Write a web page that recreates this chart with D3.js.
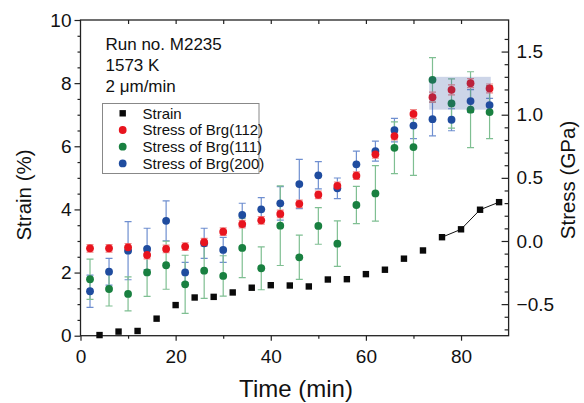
<!doctype html>
<html lang="en">
<head>
<meta charset="utf-8">
<title>Strain and stress vs time</title>
<style>
    body { margin: 0; background: #fff; }
    svg text { font-family: "Liberation Sans", Arial, sans-serif; fill: #111; }
    .axis .domain { display: none; }
    .axis line { stroke: #222; stroke-width: 1.2px; }
    .axis text { font-size: 19px; }
    .frame { fill: none; stroke: #222; stroke-width: 1.3px; }
    .errbar { fill: none; stroke-width: 1.2px; }
</style>
</head>
<body>
<svg id="plot" width="584" height="403"></svg>
<script src="https://d3js.org/d3.v7.min.js"></script>
<script>
// strain (%) vs time (min)
const strainTime = [4, 8, 12, 16, 20, 24, 28, 32, 36, 40, 44, 48, 52, 56, 60, 64, 68, 72, 76, 80, 84, 88];
const strainVal = [0.02, 0.13, 0.15, 0.54, 0.97, 1.21, 1.23, 1.37, 1.52, 1.60, 1.59, 1.56, 1.78, 1.79, 1.95, 2.09, 2.44, 2.70, 3.12, 3.37, 3.99, 4.23];

// stress (GPa) vs time (min)
const stressTime = [2, 6, 10, 14, 18, 22, 26, 30, 34, 38, 42, 46, 50, 54, 58, 62, 66, 70, 74, 78, 82, 86];
const brg112 = [-0.058, -0.058, -0.050, -0.111, -0.063, -0.044, -0.010, 0.074, 0.134, 0.164, 0.214, 0.294, 0.366, 0.437, 0.517, 0.686, 0.831, 1.006, 1.139, 1.197, 1.250, 1.208];
const brg112Err = [0.03, 0.03, 0.03, 0.03, 0.03, 0.03, 0.03, 0.03, 0.03, 0.03, 0.03, 0.03, 0.03, 0.03, 0.03, 0.03, 0.03, 0.035, 0.04, 0.04, 0.035, 0.035];
const brg111 = [-0.303, -0.380, -0.419, -0.249, -0.192, -0.343, -0.235, -0.277, -0.055, -0.216, 0.121, -0.129, 0.119, -0.021, 0.285, 0.377, 0.738, 0.744, 1.276, 1.089, 1.040, 1.021];
const brg111Err = [0.16, 0.135, 0.135, 0.19, 0.19, 0.23, 0.22, 0.16, 0.235, 0.17, 0.315, 0.175, 0.145, 0.18, 0.148, 0.22, 0.205, 0.225, 0.176, 0.195, 0.30, 0.21];
const brg200 = [-0.398, -0.243, -0.077, -0.063, 0.160, -0.249, -0.018, -0.071, 0.206, 0.251, 0.298, 0.451, 0.520, 0.417, 0.607, 0.712, 0.878, 0.914, 0.965, 0.960, 1.108, 1.076];
const brg200Err = [0.127, 0.106, 0.23, 0.164, 0.158, 0.08, 0.119, 0.099, 0.093, 0.093, 0.132, 0.195, 0.108, 0.082, 0.105, 0.079, 0.093, 0.103, 0.132, 0.087, 0.09, 0.053];

// shaded region (time range, stress range)
const boxTime = [73.3, 86.25];
const boxStress = [1.04, 1.30];

const notes = ["Run no. M2235", "1573 K", "2 μm/min"];
const legendLabels = ["Strain", "Stress of Brg(112)", "Stress of Brg(111)", "Stress of Brg(200)"];

const svg = d3.select("svg");

let x = d3.scaleLinear().domain([0, 90]).range([80.5, 508.6]);
let yL = d3.scaleLinear().domain([0, 10]).range([335.7, 20]);
let yR = d3.scaleLinear().domain([-0.75, 1.75]).range([335.7, 20]);

const xLeft = x.range()[0], xRight = x.range()[1];
const yTop = yL.range()[1], yBottom = yL.range()[0];

// axes
svg.append("g").attr("class", "axis")
    .attr("transform", "translate(" + xLeft + ",0)")
    .call(d3.axisLeft(yL).tickValues([0, 2, 4, 6, 8, 10]).tickSize(6).tickPadding(3));
svg.append("g").attr("class", "axis")
    .attr("transform", "translate(" + xLeft + ",0)")
    .call(d3.axisLeft(yL).tickValues(d3.range(0.5, 10, 0.5).filter(v => v % 2 !== 0)).tickSize(3).tickFormat(""));

svg.append("g").attr("class", "axis")
    .attr("transform", "translate(0," + yBottom + ")")
    .call(d3.axisBottom(x).tickValues([0, 20, 40, 60, 80]).tickSize(5).tickPadding(8.5));
svg.append("g").attr("class", "axis")
    .attr("transform", "translate(0," + yBottom + ")")
    .call(d3.axisBottom(x).tickValues([10, 30, 50, 70]).tickSize(3).tickFormat(""));

svg.append("g").attr("class", "axis")
    .attr("transform", "translate(0," + yTop + ")")
    .call(d3.axisTop(x).tickValues([10, 20, 30, 40, 50, 60, 70, 80]).tickSize(-4).tickFormat(""));

svg.append("g").attr("class", "axis")
    .attr("transform", "translate(" + xRight + ",0)")
    .call(d3.axisRight(yR).tickValues([-0.5, 0, 0.5, 1.0, 1.5]).tickSize(-7).tickPadding(8).tickFormat(d3.format(".1f")));
svg.append("g").attr("class", "axis")
    .attr("transform", "translate(" + xRight + ",0)")
    .call(d3.axisRight(yR).tickValues(d3.range(-7, 17).map(v => v / 10).filter(v => Math.round(v * 10) % 5 !== 0)).tickSize(-4).tickFormat(""));

svg.append("rect").attr("class", "frame")
    .attr("x", xLeft).attr("y", yTop)
    .attr("width", xRight - xLeft).attr("height", yBottom - yTop);

// axis titles
svg.append("text")
    .attr("transform", "translate(31,195) rotate(-90)")
    .attr("text-anchor", "middle")
    .style("font-size", "20.5px")
    .text("Strain (%)");
svg.append("text")
    .attr("transform", "translate(575,180) rotate(-90)")
    .attr("text-anchor", "middle")
    .style("font-size", "20.5px")
    .text("Stress (GPa)");
svg.append("text")
    .attr("x", 296).attr("y", 397)
    .attr("text-anchor", "middle")
    .style("font-size", "24px")
    .text("Time (min)");

// strain: squares + line through last points
const strainData = strainTime.map((t, i) => [t, strainVal[i]]);
svg.append("path")
    .datum(strainData.filter(d => d[0] >= 76))
    .attr("fill", "none").attr("stroke", "#111").attr("stroke-width", 1)
    .attr("d", d3.line().x(d => x(d[0])).y(d => yL(d[1])));
svg.append("g").selectAll("rect")
    .data(strainData).join("rect")
    .attr("x", d => x(d[0]) - 3.2).attr("y", d => yL(d[1]) - 3.2)
    .attr("width", 6.4).attr("height", 6.4)
    .attr("fill", "#0a0a0a");

// stress series, drawn blue, green, red
const series = [
    {vals: brg200, errs: brg200Err, color: "#1f4c9f", bar: "#6f8fd0"},
    {vals: brg111, errs: brg111Err, color: "#198040", bar: "#7fbf92"},
    {vals: brg112, errs: brg112Err, color: "#e8141e", bar: "#f08a8a"}
];

const bars = svg.append("g");
for (const s of series) {
    const d = stressTime.map((t, i) => [t, s.vals[i], s.errs[i]]);
    const g = bars.append("g").attr("stroke", s.bar).attr("class", "errbar");
    g.selectAll("path").data(d).join("path")
        .attr("d", p => {
            const cx = x(p[0]), y0 = yR(p[1] - p[2]), y1 = yR(p[1] + p[2]);
            return "M" + cx + "," + y0 + "V" + y1 +
                "M" + (cx - 3.5) + "," + y0 + "H" + (cx + 3.5) +
                "M" + (cx - 3.5) + "," + y1 + "H" + (cx + 3.5);
        });
}
for (const s of series) {
    svg.append("g").selectAll("circle")
        .data(stressTime.map((t, i) => [t, s.vals[i]])).join("circle")
        .attr("cx", d => x(d[0])).attr("cy", d => yR(d[1]))
        .attr("r", 3.9)
        .attr("fill", s.color);
}

// shaded box on top
svg.append("rect")
    .attr("x", x(boxTime[0])).attr("y", yR(boxStress[1]))
    .attr("width", x(boxTime[1]) - x(boxTime[0]))
    .attr("height", yR(boxStress[0]) - yR(boxStress[1]))
    .attr("fill", "#3050a0").attr("fill-opacity", 0.24);

// notes
svg.append("g").selectAll("text")
    .data(notes).join("text")
    .attr("x", 105.5).attr("y", (d, i) => 50 + i * 20.8)
    .style("font-size", "17px")
    .text(d => d);

// legend
const lg = svg.append("g");
lg.append("rect")
    .attr("x", 102.5).attr("y", 103.5).attr("width", 156.5).attr("height", 70)
    .attr("fill", "#fff").attr("stroke", "#888").attr("stroke-width", 1);
const legendColors = ["#0a0a0a", "#e8141e", "#198040", "#1f4c9f"];
legendLabels.forEach((lab, i) => {
    const cy = 113.3 + i * 16.7;
    if (i === 0) {
        lg.append("rect").attr("x", 119.5).attr("y", cy - 3.2).attr("width", 6.4).attr("height", 6.4).attr("fill", legendColors[i]);
    } else {
        lg.append("circle").attr("cx", 122.7).attr("cy", cy).attr("r", 3.9).attr("fill", legendColors[i]);
    }
    lg.append("text")
        .attr("x", 142.5).attr("y", cy).attr("dy", "0.36em")
        .style("font-size", "15px")
        .text(lab);
});
</script>
</body>
</html>
